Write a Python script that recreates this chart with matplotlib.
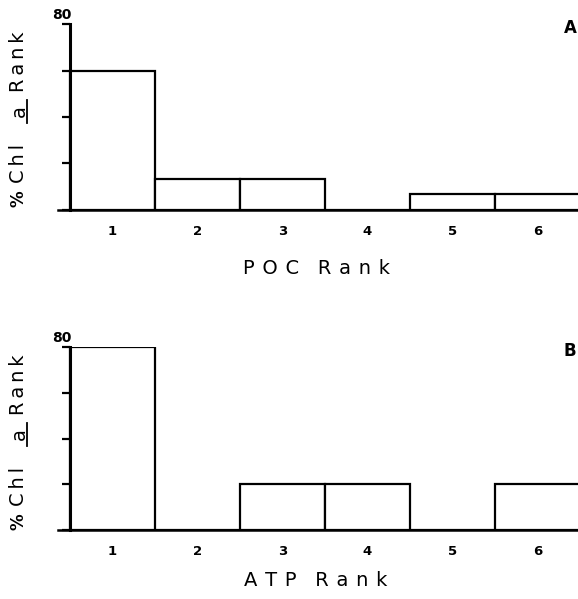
import matplotlib
matplotlib.use("Agg")
import matplotlib.pyplot as plt
from matplotlib.lines import Line2D

# data
ranks = [1, 2, 3, 4, 5, 6]
poc_pct = [60, 13.3, 13.3, 0, 6.7, 6.7]
atp_pct = [80, 0, 20, 20, 0, 20]
yticks = [0, 20, 40, 60, 80]

W, H = 578, 599
fig = plt.figure(figsize=(W / 100, H / 100), dpi=100)

def fx(px):
    return px / W

def fy(py):
    return 1 - py / H

def spaced(s, sep="\u2009"):
    # plotter lettering is wide, pad with thin spaces
    return sep.join(s)

def panel(top, base, vals, xlab, letter, xlab_y):
    # axis from x=58 px (slight overhang of x axis) to right edge
    ax = fig.add_axes([fx(58), fy(base), 1 - fx(58), (base - top) / H])
    unit = 85.0
    x0 = 0.5 - 12 / unit
    ax.set_xlim(x0, x0 + (W - 58) / unit)
    ax.set_ylim(0, 80)
    ax.bar(ranks, vals, width=1.0, color="white", edgecolor="black",
           linewidth=1.6, zorder=3)
    for s in ["top", "right"]:
        ax.spines[s].set_visible(False)
    ax.spines["left"].set_position(("data", 0.5))
    ax.spines["left"].set_linewidth(2.2)
    ax.spines["bottom"].set_linewidth(1.8)
    ax.spines["left"].set_zorder(4)
    ax.set_yticks(yticks)
    ax.set_yticklabels([])
    ax.tick_params(axis="y", length=6, width=1.6, direction="out")
    ax.set_xticks(ranks)
    ax.set_xticklabels([str(r) for r in ranks], fontsize=9.5,
                       fontweight="bold")
    ax.tick_params(axis="x", length=0, pad=11)
    ax.set_facecolor("none")

    # "80" sits above the axis top
    fig.text(fx(62), fy(top - 9), "80", fontsize=10, fontweight="bold",
             ha="center", va="center")
    sep = "\u2009\u2009"
    fig.text(fx(316), fy(xlab_y), spaced(xlab, sep) + "   "
             + spaced("Rank", sep), fontsize=14, ha="center", va="center")
    fig.text(fx(570), fy(top + 4), letter, fontsize=12, fontweight="bold",
             ha="center", va="center")

    # y label "% Chl a Rank" with underlined a
    off = top - 24
    lx = fx(18)
    fig.text(lx, fy(199 + off), "%", fontsize=12, fontweight="bold",
             rotation=90, ha="center", va="center")
    fig.text(lx, fy(163 + off), spaced("Chl"), fontsize=14,
             rotation=90, ha="center", va="center")
    fig.text(fx(19), fy(111 + off), "a", fontsize=14,
             rotation=90, ha="center", va="center")
    fig.text(lx, fy(62 + off), spaced("Rank"), fontsize=14,
             rotation=90, ha="center", va="center")
    fig.add_artist(Line2D([fx(27), fx(27)], [fy(100 + off), fy(123 + off)],
                          color="black", linewidth=1.3))
    return ax

panel(24, 210, poc_pct, "POC", "A", 268)
panel(347, 530, atp_pct, "ATP", "B", 580)

fig.savefig("out.png", dpi=100, facecolor="white")
